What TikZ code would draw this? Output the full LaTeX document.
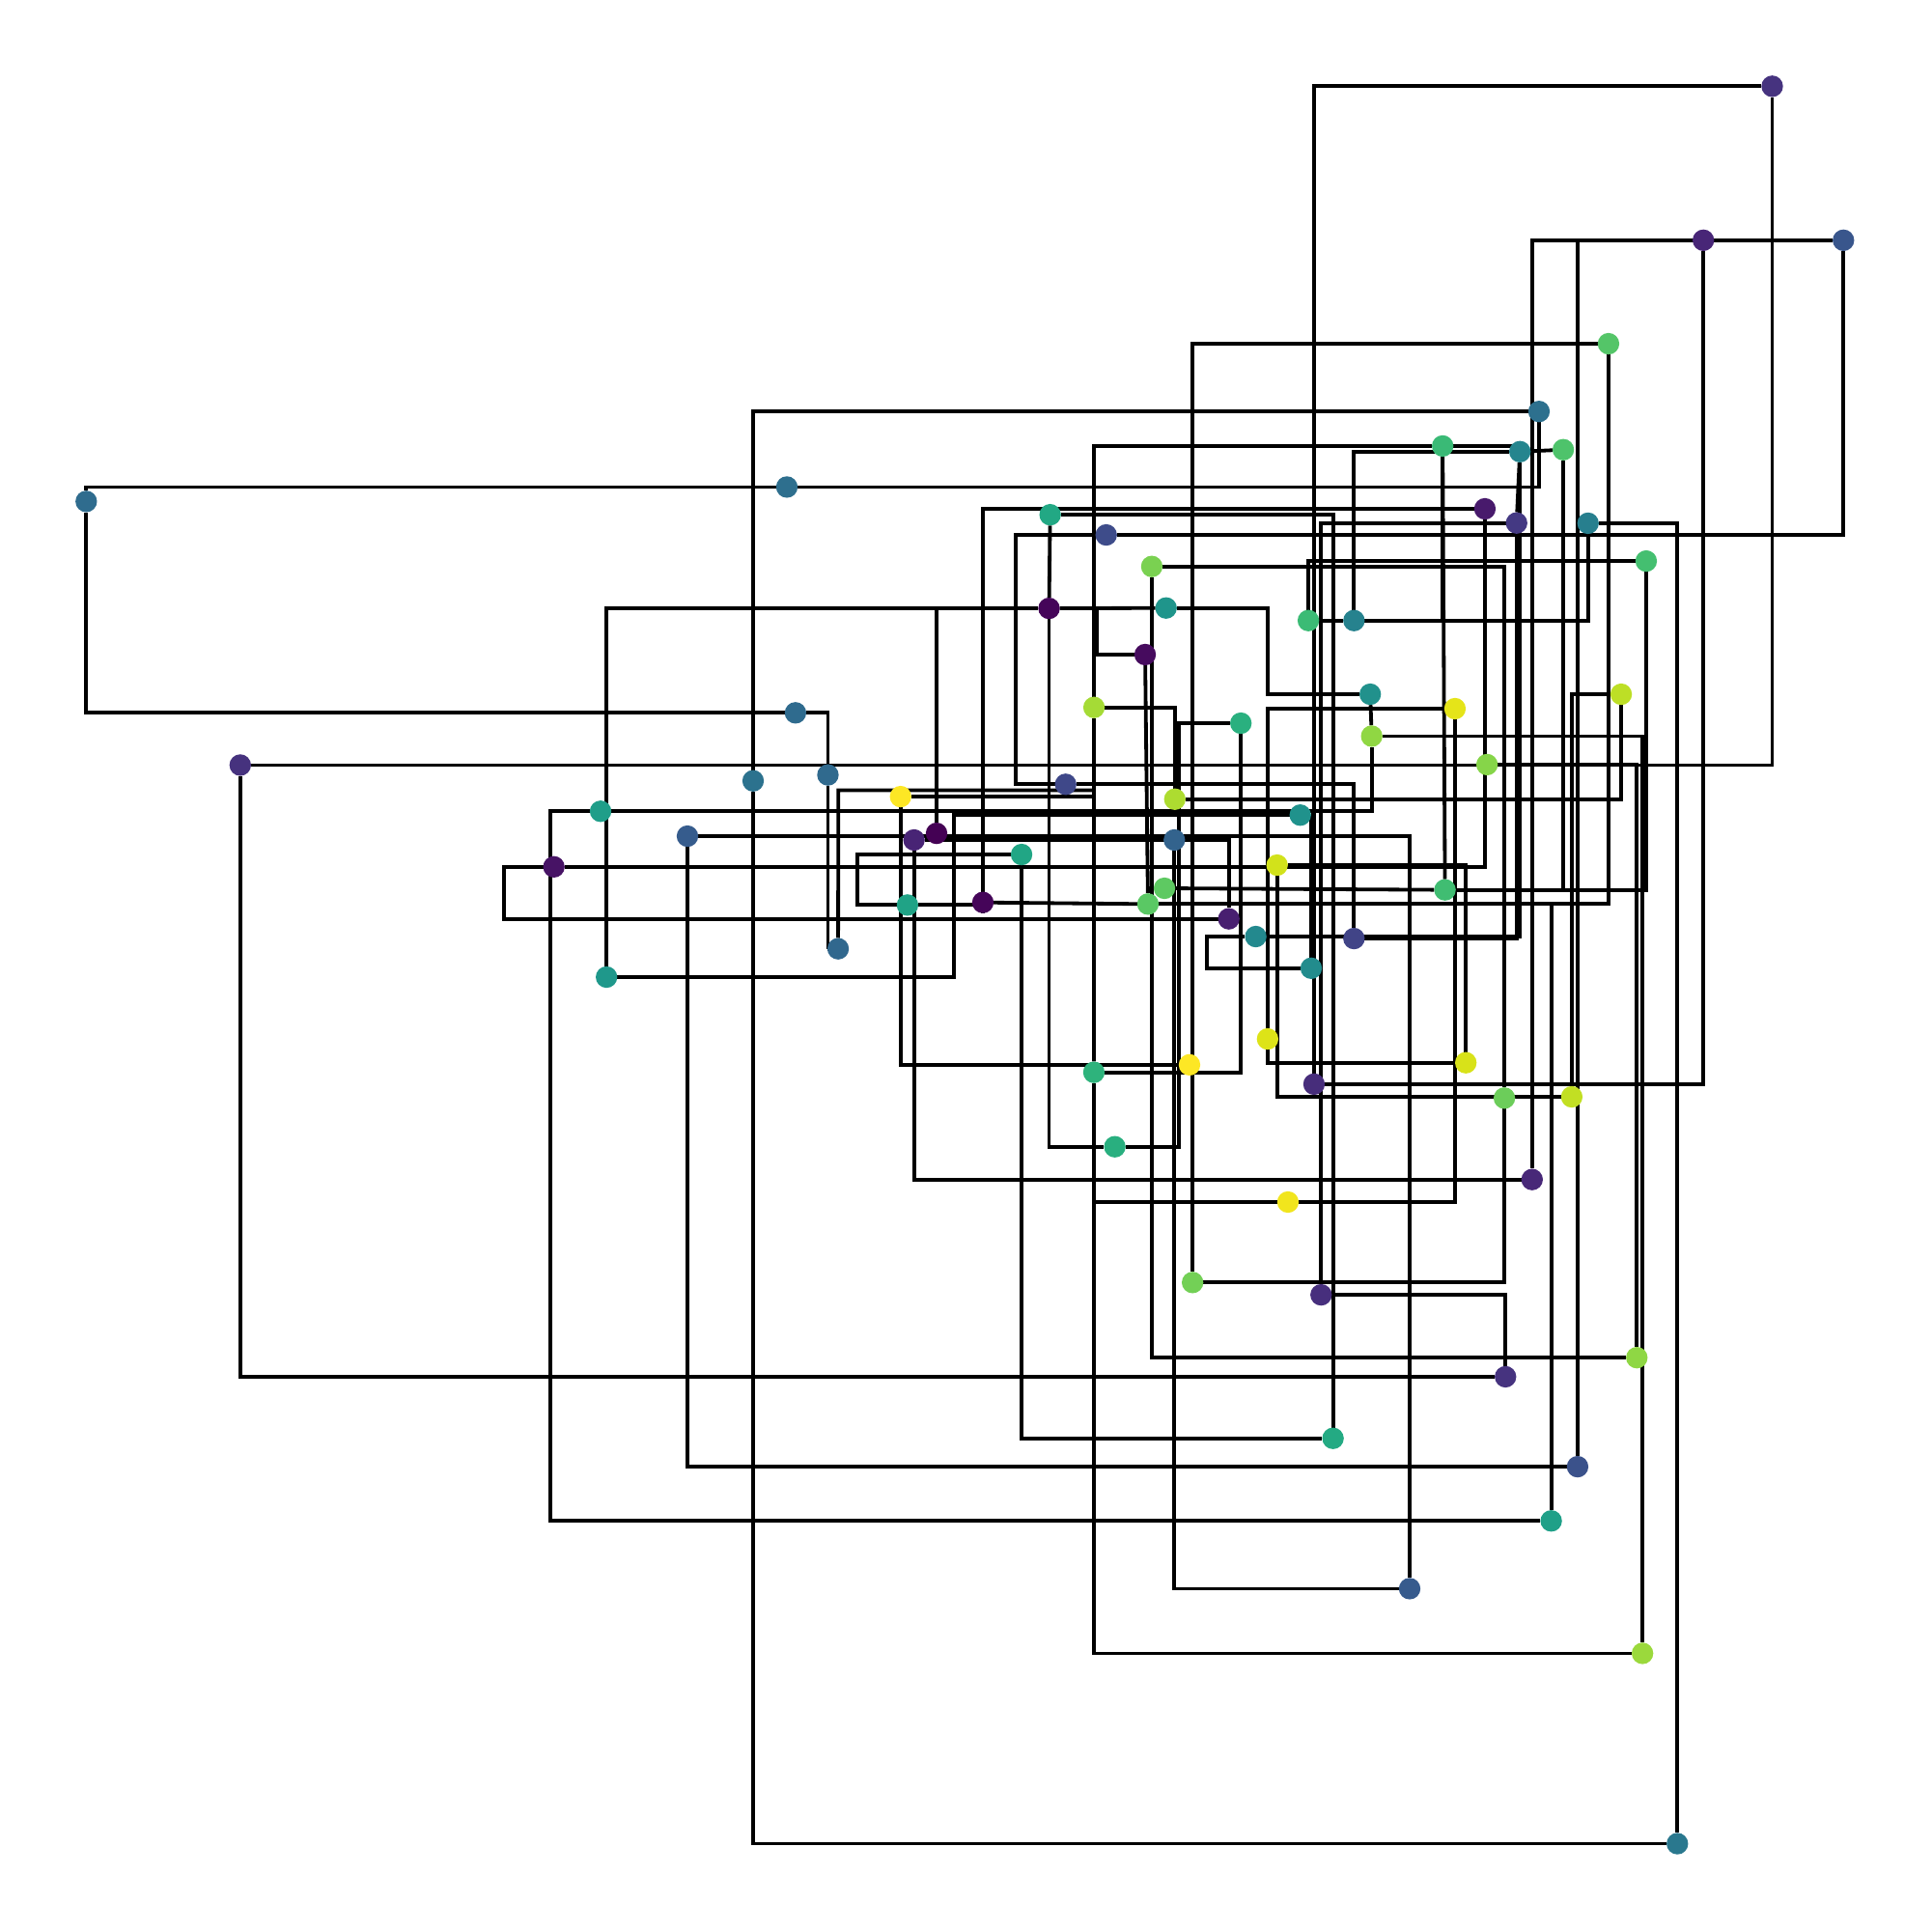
\documentclass[tikz,border=0pt]{standalone}
\pgfdeclarelayer{edges}
\pgfsetlayers{edges,main}
\begin{document}
\begin{tikzpicture}[x=0.01cm,y=-0.01cm,
  vert/.style={circle,inner sep=0pt,outer sep=0pt,minimum size=0.175cm,draw=none},
  link/.style={line width=0.85pt,black}]
\useasboundingbox (0,0) rectangle (1567.4,1567.4);
\foreach \n/\x/\y/\c in {1/1438.5/70/46337F,2/1382.6/195/482677,3/1496.3/195/39568C,
4/1305.6/279/54C568,5/1249.2/334/2D708E,6/1171/362/3ABA76,7/1233.7/366.6/25858E,
8/1268.9/365/4EC36B,9/70/407/2F6C8E,10/638.7/395.3/2E6F8E,11/852.4/417.8/22A884,
12/897.9/434.2/3E4C8A,13/1205.3/413/481A6C,14/1231/424.5/443983,15/1289/424.7/277F8E,
16/934.9/459.8/7AD151,17/1336.2/455.4/44BF70,18/851.5/493.8/450559,19/946.5/493.5/1F958B,
20/1062/503.7/3BBB75,21/1099/503.7/26828E,22/929.5/531.3/460B5E,23/1112.2/563.5/21918C,
24/1181/575.2/E5E419,25/888/574.2/A5DB36,26/1315.9/563.5/BDDF26,27/1007.2/587/2AB07F,
28/1113.4/597.5/90D743,29/1207/620.6/86D549,30/195/621/46327E,31/645.7/578.6/2F6B8E,
32/611.3/633.8/2C728E,33/672/629/306A8E,34/865/636.6/3F4889,35/731/646.6/FDE725,
36/953.6/648.7/ADDC30,37/487.5/658.5/1F9E89,38/1055.4/661.6/20928C,39/760.2/676.4/440154,
40/741.9/681.8/482475,41/558/678.7/365C8D,42/953.2/681.8/33638D,43/829.2/693.6/21A685,
44/449.6/703.6/471365,45/1036.6/702.2/D2E21B,46/945.2/721/5EC962,47/1172.9/722.3/40BD72,
48/736.6/734.6/20A386,49/797.8/732.5/450559,50/931.8/733.8/5AC864,51/997.4/745.8/481F70,
52/1019.3/760.2/23898E,53/1099/761.8/414487,54/680.3/770.1/31688E,55/1064.3/785.9/228C8D,
56/492.3/793.1/1F988B,57/1028.9/843.3/DDE318,58/887.9/870.4/2EB37C,59/965.5/864.3/FDE725,
60/1189.8/862.6/D8E219,61/1066.6/880/472D7B,62/1221.1/891.3/6CCD5A,63/1275.8/890.3/C2DF23,
64/904.9/930.8/29AF7F,65/1243.6/957.4/482878,66/1045.4/975.7/F1E51D,67/968/1041/73D056,
68/1072.3/1051/472F7D,69/1328.6/1102/8FD744,70/1222/1117.5/46337F,71/1082/1167.5/24AA83,
72/1280.5/1190.5/3B528B,73/1259.1/1234.5/1FA088,74/1144.2/1289.5/375B8D,
75/1333.2/1342/9BD93C,76/1361.5/1496.5/2A788E}
{\definecolor{vc}{HTML}{\c}
\node[vert,fill=vc] (v\n) at (\x,\y) {};}
\begin{pgfonlayer}{edges}
\draw[link] (v1) -| (v61);
\draw[link] (v1) |- (v30);
\draw[link] (v30) |- (v70);
\draw[link] (v2) |- (v61);
\draw[link] (v2) -| (v72);
\draw[link] (v3) -| (v65);
\draw[link] (v3) |- (v12);
\draw[link] (v12) -- (824.7,434.2) |- (v34);
\draw[link] (v34) -| (v53);
\draw[link] (v4) -| (v67);
\draw[link] (v4) |- (v50);
\draw[link] (v49) -- (v50);
\draw[link] (v43) -- (696.2,693.6) |- (v48);
\draw[link] (v48) -| (v49);
\draw[link] (v13) -| (v49);
\draw[link] (v5) -| (v32);
\draw[link] (v32) |- (v76);
\draw[link] (v15) -| (v76);
\draw[link] (v5) |- (v10);
\draw[link] (v10) -| (v9);
\draw[link] (v9) |- (v31);
\draw[link] (v31) -| (v33);
\draw[link] (v33) |- (v54);
\draw[link] (v54) -- (680.5,641.4) -| (v58);
\draw[link] (v6) -| (v25);
\draw[link] (v35) -| (v25);
\draw[link] (v66) -| (v58);
\draw[link] (v75) -| (v58);
\draw[link] (v24) |- (v66);
\draw[link] (v6) |- (v21);
\draw[link] (v6) -- (v47);
\draw[link] (v15) |- (v21);
\draw[link] (v20) -- (v21);
\draw[link] (v21) |- (v7);
\draw[link] (v6) -| (v7);
\draw[link] (v7) -- (v8);
\draw[link] (v7) -- (v14);
\draw[link] (v8) |- (v47);
\draw[link] (v17) |- (v47);
\draw[link] (v46) -- (v47);
\draw[link] (v46) -| (v50);
\draw[link] (v14) |- (v53);
\draw[link] (v7) |- (v52);
\draw[link] (v52) -- (979.6,760.2) |- (v55);
\draw[link] (v13) |- (v44);
\draw[link] (v44) -- (408.8,703.6) |- (v51);
\draw[link] (v29) -| (v69);
\draw[link] (v16) -| (v62);
\draw[link] (v62) |- (v67);
\draw[link] (v16) |- (v69);
\draw[link] (v17) -| (v20);
\draw[link] (v18) -| (v56);
\draw[link] (v56) -| (774.5,661.6) -- (v38);
\draw[link] (v38) -| (v55);
\draw[link] (v18) -- (v19);
\draw[link] (v19) -- (1029.3,493.5) |- (v23);
\draw[link] (v18) -- (890,493.8) |- (v22);
\draw[link] (v11) -- (v18);
\draw[link] (v18) |- (v64);
\draw[link] (v64) -- (956.6,930.8) |- (v27);
\draw[link] (v25) -| (v36);
\draw[link] (v36) -| (v26);
\draw[link] (v42) |- (v74);
\draw[link] (v74) |- (v41);
\draw[link] (v41) |- (v72);
\draw[link] (v40) -| (v51);
\draw[link] (v40) |- (v65);
\draw[link] (v35) |- (v59);
\draw[link] (v43) |- (v71);
\draw[link] (v71) |- (v11);
\draw[link] (v28) |- (v37);
\draw[link] (v37) -- (446.7,658.5) |- (v73);
\draw[link] (v73) |- (v50);
\draw[link] (v45) -| (v60);
\draw[link] (v45) |- (v63);
\draw[link] (v24) -| (v57);
\draw[link] (v57) |- (v60);
\draw[link] (v68) |- (v14);
\draw[link] (v68) -| (v70);
\draw[link] (v58) -| (v27);
\draw[link] (v63) |- (v26);
\draw[link] (v28) -| (v75);
\draw[link] (v23) -- (v28);
\draw[link] (v39) |- (v18);
\draw[link] (v22) -- (v50);
\end{pgfonlayer}
\end{tikzpicture}
\end{document}
